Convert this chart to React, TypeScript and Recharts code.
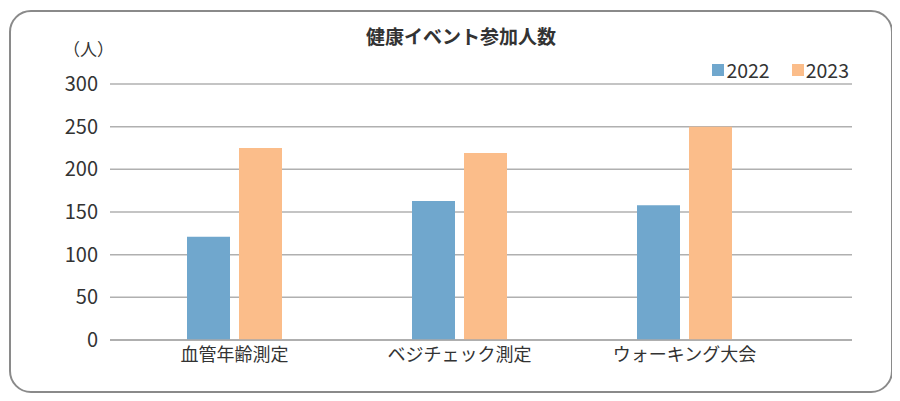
import { BarChart, Bar, XAxis, YAxis, CartesianGrid } from 'recharts';

const categories = ['血管年齢測定', 'ベジチェック測定', 'ウォーキング大会'];
const values2022 = [121, 163, 158];
const values2023 = [225, 219, 250];
const yTicks = [0, 50, 100, 150, 200, 250, 300];

const series = [
  { key: '2022', color: '#70a7cd' },
  { key: '2023', color: '#fbbd8a' },
];

const data = categories.map((name, i) => ({
  name,
  '2022': values2022[i],
  '2023': values2023[i],
}));

const font = '"Noto Sans CJK JP", "Noto Sans", sans-serif';

const App = () => {
  return (
    <div
      style={{
        position: 'relative',
        width: 880,
        height: 379,
        border: '2px solid #8a8a8a',
        borderRadius: 22,
        margin: '2px 0 0 1px',
        background: '#fff',
        fontFamily: font,
      }}
    >
      <div
        style={{
          position: 'absolute',
          left: 0,
          width: 900,
          top: 10,
          textAlign: 'center',
          fontSize: 19,
          fontWeight: 'bold',
          color: '#333',
        }}
      >
        健康イベント参加人数
      </div>
      <div style={{ position: 'absolute', left: 52, top: 24, fontSize: 17, color: '#333' }}>（人）</div>
      <div
        style={{
          position: 'absolute',
          right: 42,
          top: 47,
          display: 'flex',
          fontSize: 19.5,
          color: '#333',
          lineHeight: '22px',
        }}
      >
        {series.map((s) => (
          <div key={s.key} style={{ display: 'flex', alignItems: 'center', marginLeft: 22 }}>
            <span style={{ width: 12, height: 12, background: s.color, marginRight: 2, display: 'inline-block' }} />
            <span>{s.key}</span>
          </div>
        ))}
      </div>
      <BarChart
        width={880}
        height={378}
        data={data}
        margin={{ top: 72, right: 39, left: 0, bottom: 0 }}
        barGap={9}
        barSize={43}
        style={{ position: 'absolute', left: 0, top: 0 }}
      >
        <CartesianGrid vertical={false} stroke="#b0b0b0" strokeWidth={1.5} />
        <XAxis
          dataKey="name"
          height={50}
          tickLine={false}
          axisLine={{ stroke: '#a8a8a8', strokeWidth: 1.5 }}
          tick={{ fill: '#333', fontSize: 18, fontFamily: font }}
          interval={0}
          padding={{ left: 12, right: 55 }}
        />
        <YAxis
          width={99}
          domain={[0, 300]}
          ticks={yTicks}
          tickLine={false}
          axisLine={false}
          tickMargin={6}
          tick={{ fill: '#333', fontSize: 20, fontFamily: font }}
        />
        {series.map((s) => (
          <Bar key={s.key} dataKey={s.key} fill={s.color} isAnimationActive={false} />
        ))}
      </BarChart>
    </div>
  );
};

export default App;
